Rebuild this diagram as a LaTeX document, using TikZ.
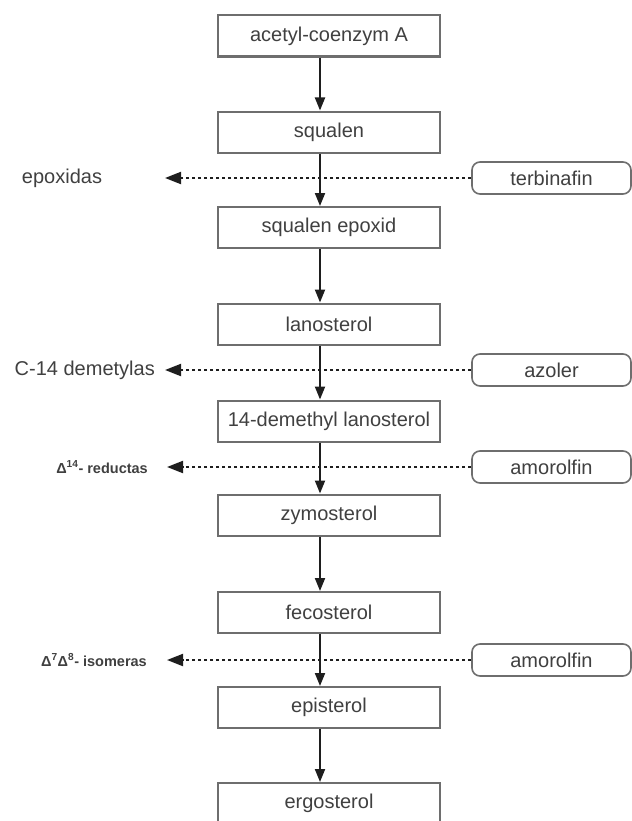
\documentclass[tikz,border=0pt]{standalone}
\usepackage{fontspec}
\setmainfont{Liberation Sans}
\usetikzlibrary{arrows.meta}
\definecolor{txt}{HTML}{404040}
\definecolor{boxline}{HTML}{6E6E6E}
\definecolor{arr}{HTML}{1E1E1E}
\begin{document}
\begin{tikzpicture}[x=1bp,y=-1bp,
 stepbox/.style={draw=boxline, line width=2bp, fill=white, minimum width=222bp, minimum height=41bp, inner sep=0pt, text=txt, font=\fontsize{20bp}{24bp}\selectfont},
 drugbox/.style={draw=boxline, line width=1.6bp, fill=white, rounded corners=8bp, minimum width=159bp, minimum height=32bp, inner sep=0pt, text=txt, font=\fontsize{20bp}{24bp}\selectfont},
 enzlabel/.style={text=txt, inner sep=0pt, font=\fontsize{20bp}{24bp}\selectfont},
 smalllabel/.style={text=txt, inner sep=0pt, font=\fontsize{14.5bp}{17bp}\selectfont\bfseries},
 flow/.style={draw=arr, line width=2bp, -{Triangle[width=10bp,length=13bp]}},
 inhib/.style={draw=arr, line width=2bp, dash pattern=on 3bp off 3bp, -{Triangle[width=12bp,length=16bp]}}
]
\useasboundingbox (0,0) rectangle (632,821);

% pathway boxes
\node[stepbox] (acetyl) at (329,36) {acetyl-coenzym A};
\node[stepbox] (squalen) at (329,132) {squalen};
\node[stepbox] (epoxid) at (329,227.5) {squalen epoxid};
\node[stepbox] (lano) at (329,324) {lanosterol};
\node[stepbox] (demethyl) at (329,421) {14-demethyl lanosterol};
\node[stepbox] (zymo) at (329,515) {zymosterol};
\node[stepbox] (feco) at (329,612.5) {fecosterol};
\node[stepbox] (epi) at (329,707.5) {episterol};
\node[stepbox] (ergo) at (329,803.5) {ergosterol};

% inhibitors
\node[drugbox] (terb) at (551.5,178) {terbinafin};
\node[drugbox] (azol) at (551.5,370) {azoler};
\node[drugbox] (amoA) at (551.5,467) {amorolfin};
\node[drugbox] (amoB) at (551.5,660) {amorolfin};

% enzyme labels
\node[enzlabel] (epoxidas) at (62,178) {epoxidas};
\coordinate (tip1) at (165,178);
\node[enzlabel, anchor=east] (demetylas) at (155,370) {C-14 demetylas};
\coordinate (tip2) at (165,370);
\node[smalllabel, anchor=east] (reductas) at (148,467) {Δ\textsuperscript{14}- reductas};
\coordinate (tip3) at (167,467);
\node[smalllabel, anchor=east] (isomeras) at (147,660) {Δ\textsuperscript{7}Δ\textsuperscript{8}- isomeras};
\coordinate (tip4) at (167,660);

% inhibition lines
\draw[inhib] (terb.west) -- (tip1);
\draw[inhib] (azol.west) -- (tip2);
\draw[inhib] (amoA.west) -- (tip3);
\draw[inhib] (amoB.west) -- (tip4);

% pathway arrows
\foreach \a/\b in {acetyl/squalen, squalen/epoxid, epoxid/lano, lano/demethyl, demethyl/zymo, zymo/feco, feco/epi, epi/ergo}
  \draw[flow] ([xshift=-9bp]\a.south) -- ([xshift=-9bp]\b.north);
\end{tikzpicture}
\end{document}
